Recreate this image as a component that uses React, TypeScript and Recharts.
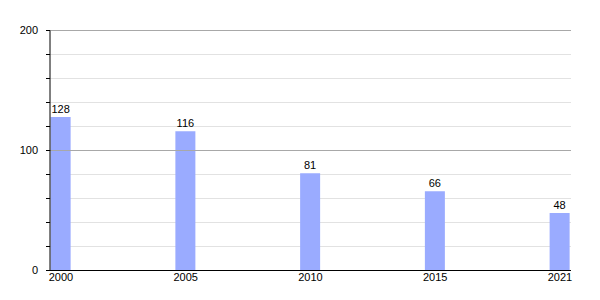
import React from 'react'
import {
  BarChart,
  Bar,
  XAxis,
  YAxis,
  CartesianGrid,
  ReferenceLine,
  LabelList,
} from 'recharts'

const years = ['2000', '2005', '2010', '2015', '2021']
const values = [128, 116, 81, 66, 48]
const yTicks = [0, 20, 40, 60, 80, 100, 120, 140, 160, 180, 200]
const yLabels = [0, 100, 200]

const data = years.map((year, i) => ({ idx: i, year, value: values[i] }))

const font = 'Liberation Sans, Arial, sans-serif'

export default function App() {
  return (
    <div style={{ position: 'absolute', left: 0, top: 0, width: 600, height: 300, background: '#fff' }}>
      <BarChart
        width={600}
        height={300}
        data={data}
        margin={{ top: 30.5, right: 29, bottom: 0, left: 0 }}
      >
        <CartesianGrid horizontal vertical={false} stroke="#e2e2e2" />
        <ReferenceLine y={100} stroke="#a8a8a8" />
        <ReferenceLine y={200} stroke="#a8a8a8" />
        <XAxis
          dataKey="idx"
          type="number"
          domain={[0, 4]}
          ticks={[0, 1, 2, 3, 4]}
          tickFormatter={(v: number) => years[v] ?? ''}
          padding={{ left: 11, right: 11 }}
          height={29.5}
          stroke="#000"
          tickLine={false}
          tickSize={2}
          tickMargin={1}
          tick={{ fontSize: 11, fill: '#000', fontFamily: font }}
        />
        <YAxis
          domain={[0, 200]}
          ticks={yTicks}
          tickFormatter={(v: number) => (yLabels.includes(v) ? String(v) : '')}
          width={50}
          stroke="#000"
          tickSize={4}
          tickMargin={8}
          tick={{ fontSize: 11, fill: '#000', fontFamily: font }}
        />
        <Bar dataKey="value" fill="#9aabff" barSize={20} isAnimationActive={false}>
          <LabelList
            dataKey="value"
            position="top"
            offset={4}
            style={{ fontSize: 11, fill: '#000', fontFamily: font }}
          />
        </Bar>
      </BarChart>
    </div>
  )
}
